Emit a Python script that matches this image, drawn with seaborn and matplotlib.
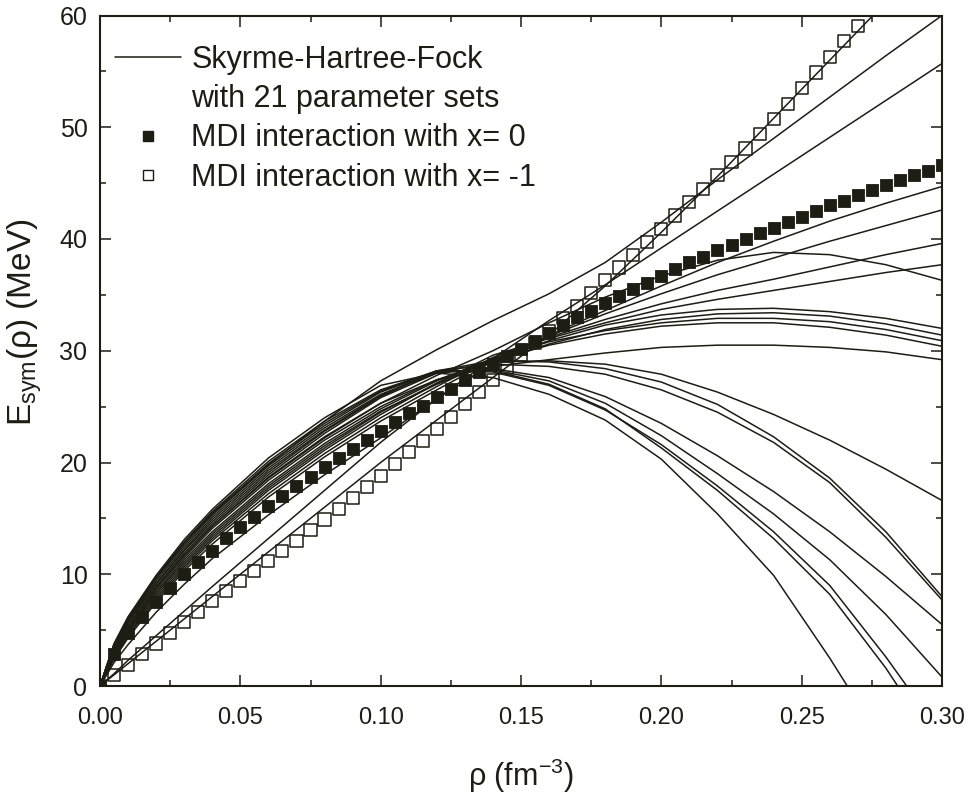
import matplotlib
matplotlib.use("Agg")
import matplotlib.pyplot as plt
import pandas as pd
import seaborn as sns
from matplotlib.lines import Line2D
from matplotlib.ticker import MultipleLocator, FormatStrFormatter

# ---------------- data ----------------
RHO_GRID = [0.0, 0.005, 0.01, 0.02, 0.03, 0.04, 0.06, 0.08, 0.10, 0.12,
            0.14, 0.16, 0.18, 0.20, 0.22, 0.24, 0.26, 0.28, 0.30]

SHF_A = [0, 1.0, 2.0, 4.0, 6.0, 8.0, 12.0, 16.0, 20.0, 23.8, 27.6, 31.4, 35.8, 40.6, 45.6, 50.8, 56.0, 61.2, 66.4]
SHF_B = [0, 3.7, 6.0, 9.7, 12.8, 15.5, 19.8, 23.7, 27.3, 30.1, 32.7, 35.1, 37.9, 41.5, 45.3, 49.0, 52.7, 56.4, 60.0]
SHF_C = [0, 1.1, 2.3, 4.5, 6.7, 8.9, 13.2, 17.5, 21.8, 25.7, 29.3, 32.7, 35.9, 39.2, 42.5, 45.8, 49.1, 52.4, 55.7]
SHF_D = [0, 2.1, 3.7, 6.6, 9.1, 11.4, 15.3, 18.9, 22.2, 25.7, 28.8, 31.4, 33.6, 35.8, 37.9, 39.8, 41.6, 43.2, 44.7]
SHF_E = [0, 2.4, 4.3, 7.5, 10.3, 12.7, 16.9, 20.5, 23.7, 26.5, 29.2, 31.3, 33.3, 35.1, 36.8, 38.3, 39.8, 41.2, 42.6]
SHF_F = [0, 2.5, 4.5, 7.7, 10.5, 13.0, 17.2, 20.8, 24.0, 26.8, 29.4, 31.2, 32.8, 34.2, 35.4, 36.4, 37.5, 38.6, 39.6]
SHF_G = [0, 2.6, 4.6, 7.9, 10.7, 13.2, 17.5, 21.1, 24.3, 27.1, 29.6, 31.1, 32.5, 33.7, 34.6, 35.4, 36.2, 37.0, 37.7]
SHF_H = [0, 3.1, 5.3, 8.8, 11.7, 14.3, 18.6, 22.2, 25.3, 27.8, 30.0, 32.5, 34.8, 36.7, 38.1, 38.8, 38.6, 37.7, 36.3]
SHF_I = [0, 2.7, 4.8, 8.1, 10.9, 13.4, 17.7, 21.3, 24.5, 27.1, 29.2, 30.9, 32.3, 33.2, 33.7, 33.8, 33.5, 32.9, 32.0]
SHF_J = [0, 2.8, 4.9, 8.3, 11.1, 13.6, 17.9, 21.5, 24.6, 27.0, 29.0, 30.6, 31.9, 32.8, 33.3, 33.4, 33.1, 32.4, 31.4]
SHF_K = [0, 2.9, 5.0, 8.4, 11.3, 13.8, 18.1, 21.7, 24.8, 27.3, 29.3, 30.8, 31.8, 32.5, 32.9, 32.9, 32.6, 31.9, 30.9]
SHF_L = [0, 3.0, 5.1, 8.6, 11.5, 14.1, 18.4, 22.0, 25.0, 27.4, 29.1, 30.5, 31.5, 32.2, 32.5, 32.5, 32.1, 31.4, 30.4]
SHF_M = [0, 3.1, 5.3, 8.8, 11.7, 14.3, 18.7, 22.3, 25.3, 27.4, 28.6, 29.2, 29.8, 30.3, 30.5, 30.5, 30.3, 29.9, 29.2]
SHF_N = [0, 3.2, 5.4, 8.9, 11.9, 14.5, 18.9, 22.6, 25.8, 28.0, 29.0, 29.1, 28.8, 27.9, 26.3, 24.3, 22.0, 19.4, 16.6]
SHF_O = [0, 3.3, 5.6, 9.1, 12.1, 14.7, 19.1, 22.8, 25.9, 28.2, 29.1, 29.0, 28.4, 27.2, 25.2, 22.3, 18.6, 13.8, 8.0]
SHF_P = [0, 3.4, 5.7, 9.2, 12.2, 14.9, 19.3, 22.9, 26.0, 28.2, 28.8, 28.6, 27.9, 26.5, 24.5, 21.8, 18.2, 13.3, 7.7]
SHF_Q = [0, 3.5, 5.8, 9.4, 12.4, 15.1, 19.5, 23.1, 26.1, 28.0, 28.4, 27.6, 25.9, 23.5, 20.6, 17.4, 13.8, 9.8, 5.5]
SHF_R = [0, 3.6, 5.9, 9.6, 12.6, 15.3, 19.7, 23.3, 26.3, 28.1, 28.3, 27.3, 25.3, 22.4, 19.0, 15.4, 11.3, 6.4, 0.8]
SHF_S = [0, 3.7, 6.0, 9.7, 12.8, 15.4, 19.9, 23.5, 26.4, 28.2, 28.2, 27.0, 24.8, 21.3, 17.5, 13.2, 8.2, 1.6, -6.0]
SHF_T = [0, 3.7, 6.1, 9.8, 12.9, 15.6, 20.1, 23.7, 26.5, 28.2, 28.1, 26.9, 24.7, 21.6, 17.9, 13.8, 9.0, 2.6, -4.4]
SHF_U = [0, 3.8, 6.2, 9.9, 13.1, 15.8, 20.4, 24.0, 26.9, 28.0, 27.6, 26.1, 23.8, 20.3, 15.4, 9.9, 2.5, -5.5, -14.0]

SHF_SETS = [SHF_A, SHF_B, SHF_C, SHF_D, SHF_E, SHF_F, SHF_G, SHF_H, SHF_I, SHF_J, SHF_K,
            SHF_L, SHF_M, SHF_N, SHF_O, SHF_P, SHF_Q, SHF_R, SHF_S, SHF_T, SHF_U]

MDI_RHO = [0.000, 0.005, 0.010, 0.015, 0.020, 0.025, 0.030, 0.035, 0.040, 0.045,
           0.050, 0.055, 0.060, 0.065, 0.070, 0.075, 0.080, 0.085, 0.090, 0.095,
           0.100, 0.105, 0.110, 0.115, 0.120, 0.125, 0.130, 0.135, 0.140, 0.145,
           0.150, 0.155, 0.160, 0.165, 0.170, 0.175, 0.180, 0.185, 0.190, 0.195,
           0.200, 0.205, 0.210, 0.215, 0.220, 0.225, 0.230, 0.235, 0.240, 0.245,
           0.250, 0.255, 0.260, 0.265, 0.270, 0.275, 0.280, 0.285, 0.290, 0.295,
           0.300]

MDI_X0 = [0.0, 2.9, 4.7, 6.2, 7.5, 8.8, 10.0, 11.1, 12.1, 13.2,
          14.2, 15.1, 16.1, 17.0, 17.9, 18.7, 19.6, 20.4, 21.2, 22.0,
          22.8, 23.6, 24.4, 25.1, 25.9, 26.6, 27.4, 28.1, 28.8, 29.5,
          30.2, 30.9, 31.6, 32.3, 33.0, 33.6, 34.3, 34.9, 35.5, 36.1,
          36.7, 37.3, 37.9, 38.4, 39.0, 39.5, 40.0, 40.5, 41.0, 41.5,
          42.0, 42.5, 43.0, 43.4, 43.9, 44.4, 44.8, 45.3, 45.7, 46.1,
          46.6]

MDI_XM1 = [0.0, 0.95, 1.9, 2.85, 3.8, 4.75, 5.7, 6.65, 7.6, 8.5,
           9.4, 10.3, 11.2, 12.1, 13.0, 13.95, 14.9, 15.85, 16.8, 17.8,
           18.8, 19.85, 20.9, 21.95, 23.0, 24.1, 25.2, 26.3, 27.4, 28.5,
           29.6, 30.7, 31.8, 32.9, 34.0, 35.15, 36.3, 37.45, 38.6, 39.75,
           40.9, 42.1, 43.3, 44.5, 45.7, 46.9, 48.1, 49.4, 50.7, 52.1,
           53.5, 54.9, 56.3, 57.7, 59.1, 60.5]

LEGEND_LABELS = ["Skyrme-Hartree-Fock", "with 21 parameter sets",
                 "MDI interaction with x= 0", "MDI interaction with x= -1"]

# ---------------- style ----------------
sns.set_theme(style="ticks")
plt.rcParams["font.family"] = ["Liberation Sans", "DejaVu Sans"]
plt.rcParams["mathtext.fontset"] = "custom"
plt.rcParams["mathtext.rm"] = "Liberation Sans"
plt.rcParams["mathtext.it"] = "Liberation Sans"
plt.rcParams["mathtext.default"] = "regular"

INK = "#1d1d14"

fig = plt.figure(figsize=(9.69, 7.95), dpi=100)
ax = fig.add_axes([100 / 969, 109 / 795, 842 / 969, 670.5 / 795])

rows = []
for k, vals in enumerate(SHF_SETS):
    for r, e in zip(RHO_GRID, vals):
        rows.append((k, r, e))
df = pd.DataFrame(rows, columns=["set", "rho", "E"])

sns.lineplot(data=df, x="rho", y="E", units="set", estimator=None, sort=False,
             color=INK, linewidth=1.1, ax=ax, legend=False, zorder=2)

sns.scatterplot(x=MDI_RHO, y=MDI_X0, marker="s", s=72, color=INK,
                edgecolor=INK, linewidth=0.6, ax=ax, zorder=3, legend=False)
sns.scatterplot(x=MDI_RHO[:len(MDI_XM1)], y=MDI_XM1, marker="s", s=76,
                facecolor="none", edgecolor=INK, linewidth=1.1, ax=ax,
                zorder=3, legend=False)

ax.set_xlim(0, 0.30)
ax.set_ylim(0, 60)
ax.set_xlabel("")
ax.set_ylabel("")
ax.xaxis.set_major_locator(MultipleLocator(0.05))
ax.xaxis.set_minor_locator(MultipleLocator(0.025))
ax.yaxis.set_major_locator(MultipleLocator(10))
ax.yaxis.set_minor_locator(MultipleLocator(5))
ax.xaxis.set_major_formatter(FormatStrFormatter("%.2f"))
ax.yaxis.set_major_formatter(FormatStrFormatter("%d"))
ax.tick_params(which="both", direction="in", top=True, right=True,
               color=INK, width=1.1, labelcolor=INK)
ax.tick_params(which="major", length=8)
ax.tick_params(axis="x", which="major", pad=15, labelsize=17)
ax.tick_params(axis="y", which="major", pad=9, labelsize=18)
ax.tick_params(which="minor", length=4.5)
for sp in ax.spines.values():
    sp.set_linewidth(1.5)
    sp.set_color(INK)

fig.text(25 / 969, 1 - 322 / 795, "E$_{sym}$(ρ) (MeV)", rotation=90,
         ha="center", va="center", fontsize=24, color=INK)
fig.text(521 / 969, 1 - 776 / 795, "ρ (fm$^{-3}$)", ha="center", va="center",
         fontsize=22, color=INK)

handles = [
    Line2D([], [], color=INK, lw=1.1),
    Line2D([], [], ls="none"),
    Line2D([], [], ls="none", marker="s", ms=7, mfc=INK, mec=INK),
    Line2D([], [], ls="none", marker="s", ms=7, mfc="none", mec=INK, mew=1.0),
]
leg = ax.legend(handles, LEGEND_LABELS, loc="upper left",
                bbox_to_anchor=(0.011, 0.965), borderaxespad=0, borderpad=0.2,
                frameon=False, fontsize=22, handlelength=2.15,
                handletextpad=0.33, labelspacing=0.30)
for t in leg.get_texts():
    t.set_color(INK)

fig.savefig("out.png", dpi=100)
